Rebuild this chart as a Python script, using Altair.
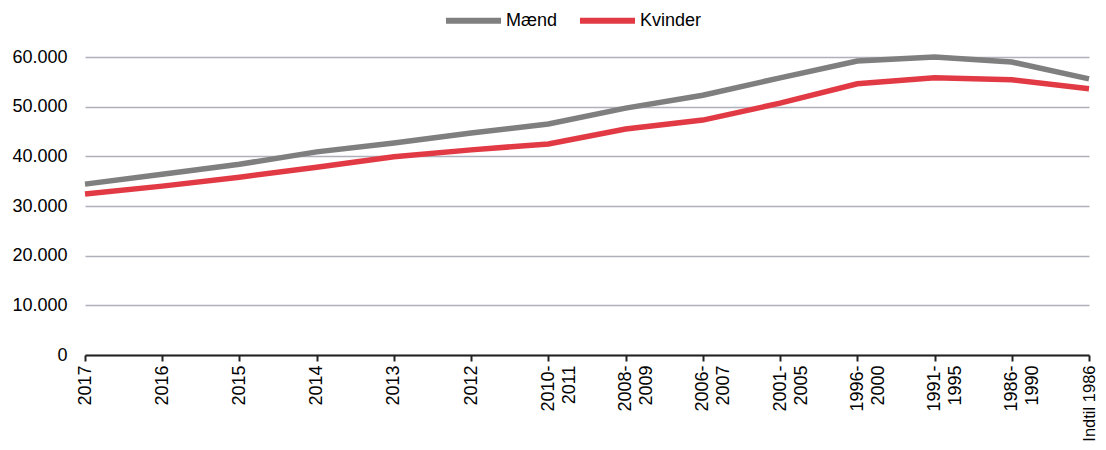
import altair as alt
import pandas as pd

categories = ["2017", "2016", "2015", "2014", "2013", "2012", "2010-\n2011", "2008-\n2009",
              "2006-\n2007", "2001-\n2005", "1996-\n2000", "1991-\n1995", "1986-\n1990", "Indtil 1986"]
maend = [34400, 36400, 38400, 40900, 42700, 44700, 46500, 49700, 52300, 55800, 59200, 60000, 59000, 55600]
kvinder = [32400, 34000, 35800, 37800, 39900, 41300, 42500, 45500, 47300, 50700, 54600, 55800, 55400, 53600]
series = ["Mænd", "Kvinder"]
colors = ["#7f7f7f", "#e23a45"]

rows = []
for i, c in enumerate(categories):
    rows.append({"kat": c, "serie": "Mænd", "v": maend[i], "o": 0})
    rows.append({"kat": c, "serie": "Kvinder", "v": kvinder[i], "o": 1})
df = pd.DataFrame(rows)

font = "Liberation Sans"

chart = alt.Chart(df).mark_line(strokeWidth=5.5, clip=False).encode(
    x=alt.X("kat:N", sort=categories, title=None,
            scale=alt.Scale(type="point", padding=0),
            axis=alt.Axis(labelAngle=270, labelAlign="right", labelBaseline="middle",
                          labelExpr="split(datum.label, '\\n')",
                          labelFontSize={"condition": {"test": "datum.label == 'Indtil 1986'", "value": 16.5},
                                         "value": 18},
                          labelColor="#000", labelFont=font,
                          domainColor="#222", domainWidth=2, tickColor="#222", tickWidth=2,
                          tickSize=6, labelPadding=4, grid=False, labelLineHeight=21,
                          labelOverlap=False)),
    y=alt.Y("v:Q", title=None,
            scale=alt.Scale(domain=[0, 60000], nice=False),
            axis=alt.Axis(values=[0, 10000, 20000, 30000, 40000, 50000, 60000],
                          labelExpr="replace(format(datum.value, ','), ',', '.')",
                          labelFontSize=18, labelColor="#000", labelFont=font,
                          domain=False, ticks=False, labelPadding=18,
                          gridColor="#aeb1bb", gridWidth=1.5)),
    color=alt.Color("serie:N", sort=series, title=None,
                    scale=alt.Scale(domain=series, range=colors),
                    legend=alt.Legend(orient="none", legendX=358, legendY=-67,
                                      direction="horizontal",
                                      symbolType="stroke", symbolSize=3025,
                                      symbolStrokeWidth=6, labelFontSize=18, labelFont=font,
                                      labelColor="#000", labelOffset=2, columnPadding=10)),
    order="o:Q",
).properties(
    width=1004, height=298,
    autosize=alt.AutoSizeParams(type="none"),
    padding={"left": 77, "top": 49, "right": 9, "bottom": 87},
).configure_view(stroke=None)

chart.save("out.html", embed_options={"renderer": "svg", "actions": False})
